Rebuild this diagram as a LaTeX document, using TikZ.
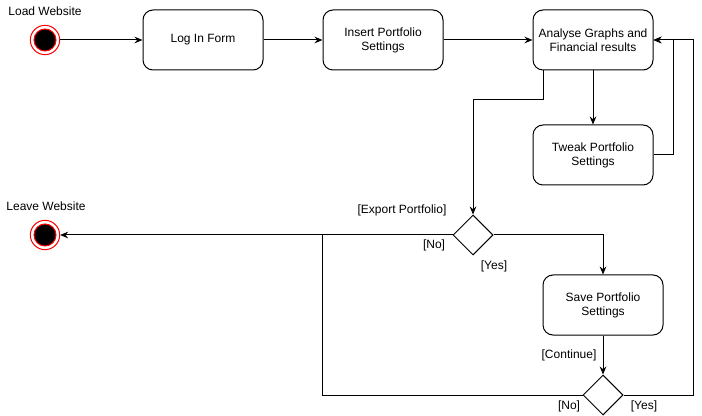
\documentclass[tikz,border=0pt]{standalone}
\usepackage{fontspec}
\setmainfont{Liberation Sans}
\usetikzlibrary{arrows.meta,shapes.geometric}

\tikzset{
  statebox/.style={rectangle, draw, rounded corners=7.5pt, minimum width=90pt, minimum height=45pt,
    align=center, font=\fontsize{9}{10.5}\selectfont, line width=0.75pt},
  choice/.style={diamond, draw, minimum width=30pt, minimum height=30pt, inner sep=0pt, line width=0.75pt},
  startpt/.style={circle, draw=red, fill=white, minimum size=22pt, inner sep=0pt, line width=0.75pt,
    path picture={\filldraw[fill=black, draw=red, line width=0.75pt]
      (path picture bounding box.center) circle (8.25pt);}},
  lbl/.style={font=\fontsize{9}{10.5}\selectfont, inner sep=0pt},
  flow/.style={-{Stealth[length=6pt,width=5pt,inset=2pt]}, line width=0.75pt}
}

\begin{document}
\begin{tikzpicture}[x=0.75pt, y=-0.75pt]
    \useasboundingbox (0,0) rectangle (702,416);

    % nodes
    \node[startpt] (begin) at (45,40) {};
    \node[lbl] (beginlbl) at (45,11) {Load Website};
    \node[statebox] (login) at (203,40) {Log In Form};
    \node[statebox] (insert) at (383,40) {Insert Portfolio\\Settings};
    \node[statebox] (analyse) at (593,40) {Analyse Graphs and\\Financial results};
    \node[statebox] (tweak) at (593,155) {Tweak Portfolio\\Settings};
    \node[choice] (export) at (473,235) {};
    \node[startpt] (leave) at (45,235) {};
    \node[lbl] (leavelbl) at (46,206) {Leave Website};
    \node[statebox] (save) at (603,305) {Save Portfolio\\Settings};
    \node[choice] (again) at (603,395) {};

    \coordinate (bend1) at (543,100);
    \coordinate (bend2) at (322,235);

    % connectors
    \draw[flow] (begin) -- (login);
    \draw[flow] (login) -- (insert);
    \draw[flow] (insert) -- (analyse);
    \draw[flow] (analyse) -- (tweak);
    \draw[flow] (analyse.south -| bend1) -- (bend1) -| (export.north);
    \draw[flow] (tweak.east) -- ++(20,0) |- (analyse.east);
    \draw[flow] (export.west) -- (leave);
    \draw[flow] (export.east) -| (save.north);
    \draw[flow] (save) -- (again);
    \draw[flow] (again.east) -- ++(70,0) |- (analyse.east);
    \draw[line width=0.75pt] (again.west) -| (bend2);

    % guard labels
    \node[lbl] (exportlbl) at (402,210) {[Export Portfolio]};
    \node[lbl] (nolbl) at (434,245) {[No]};
    \node[lbl] (yeslbl) at (494,266) {[Yes]};
    \node[lbl] (contlbl) at (569,355) {[Continue]};
    \node[lbl] (nolbl2) at (569,406) {[No]};
    \node[lbl] (yeslbl2) at (644,406) {[Yes]};
  \end{tikzpicture}
\end{document}
